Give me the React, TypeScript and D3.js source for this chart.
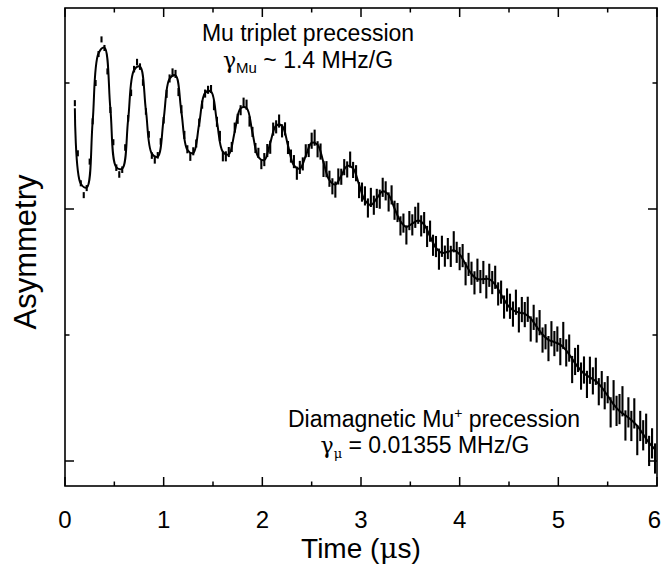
import React from 'react';
import * as d3 from 'd3';

// ---- data (asymmetry in arbitrary units) ----
const DATA_T0 = 0.1; // µs, first bin
const DATA_DT = 0.03; // µs, bin width
const asymmetry = [
  142.0, 122.1, 110.2, 105.5, 108.3, 118.8, 134.8, 150.0, 161.5, 167.3,
  163.9, 154.6, 139.3, 126.5, 116.4, 113.7, 115.6, 124.4, 136.0, 146.1,
  155.5, 158.3, 156.5, 150.2, 138.7, 129.6, 121.2, 119.3, 121.3, 126.8,
  135.2, 145.7, 151.8, 154.2, 153.6, 146.4, 139.6, 129.4, 123.7, 120.7,
  122.9, 126.0, 134.3, 141.4, 145.8, 147.3, 147.6, 141.2, 134.6, 129.0,
  120.9, 120.9, 122.6, 124.6, 132.3, 135.8, 139.2, 142.2, 141.4, 134.7,
  130.6, 124.2, 122.3, 117.8, 119.6, 123.2, 124.5, 131.7, 132.6, 134.9,
  131.0, 131.8, 124.4, 121.0, 118.8, 114.2, 116.5, 117.9, 123.1, 123.2,
  127.1, 128.3, 123.7, 122.8, 115.9, 115.8, 112.0, 109.0, 107.7, 112.9,
  112.8, 116.6, 115.7, 119.6, 115.5, 114.2, 107.5, 106.7, 105.2, 100.4,
  104.6, 101.5, 104.2, 103.9, 108.6, 107.2, 102.8, 105.6, 99.5, 98.6,
  93.3, 94.4, 89.7, 95.4, 93.7, 96.7, 98.3, 93.3, 94.6, 89.1,
  91.2, 85.6, 85.1, 80.1, 85.2, 81.3, 84.3, 81.2, 87.0, 82.8,
  80.3, 81.5, 74.3, 78.0, 74.5, 70.7, 75.7, 71.2, 74.8, 69.1,
  73.7, 70.8, 72.9, 66.3, 67.0, 61.1, 63.9, 61.4, 58.3, 63.0,
  56.0, 60.1, 58.1, 60.2, 52.4, 57.0, 52.0, 54.9, 48.0, 49.3,
  44.6, 50.5, 46.6, 48.4, 43.4, 49.8, 42.9, 44.8, 36.3, 39.5,
  40.7, 33.7, 36.1, 30.4, 36.0, 31.8, 35.6, 27.5, 30.3, 25.9,
  28.3, 19.3, 26.1, 19.9, 20.6, 23.7, 14.1, 19.3, 13.9, 18.9,
  8.3, 13.9, 10.2, 12.8, 4.0, 7.0, 1.0,
];
// error-bar half length per 0.5 µs segment
const errorBySegment = [1.2, 1.3, 1.6, 2.0, 2.6, 3.2, 3.8, 4.2, 4.6, 5.0, 5.4, 6.0];

// fitted curve
const FIT_T0 = 0.1;
const FIT_DT = 0.06;
const fitValues = [
  140.0, 110.0, 108.5, 134.5, 161.8, 164.0, 139.7, 116.6, 116.0, 135.5,
  155.1, 156.5, 139.2, 122.0, 120.8, 135.8, 151.7, 153.0, 138.4, 123.5,
  122.2, 133.9, 146.1, 146.6, 134.6, 122.7, 121.7, 130.7, 140.0, 140.1,
  130.3, 120.6, 119.4, 126.2, 133.1, 133.0, 125.2, 117.3, 116.0, 121.1,
  126.3, 125.5, 118.5, 111.4, 109.7, 113.2, 117.1, 116.1, 109.7, 103.4,
  101.6, 104.2, 107.0, 105.6, 100.2, 95.1, 92.9, 94.2, 95.4, 93.8,
  89.1, 84.6, 82.6, 83.0, 83.6, 82.0, 78.1, 74.2, 72.2, 72.2,
  72.2, 70.0, 66.1, 62.2, 59.9, 58.9, 58.4, 56.6, 53.3, 50.2,
  48.1, 47.2, 46.2, 43.9, 40.5, 37.2, 34.7, 33.2, 31.7, 29.2,
  25.9, 22.5, 19.8, 18.1, 16.3, 13.9, 10.6, 7.2, 4.6,
];

const xTicksMajor = [0, 1, 2, 3, 4, 5, 6];
const xTicksMinor = [0.5, 1.5, 2.5, 3.5, 4.5, 5.5];
const yTicksMajor = [0, 100];
const yTicksMinor = [50, 150];
const xDomain = [0, 6];
const yDomain = [-9.92, 179.76];

const W = 662;
const H = 565;
const M = { left: 65, right: 5, top: 8, bottom: 79 };

const SANS = '"Liberation Sans", Arial, Helvetica, sans-serif';
const SERIF = '"DejaVu Serif", "Liberation Serif", serif';

export default function App() {
  const x = d3.scaleLinear().domain(xDomain).range([M.left, W - M.right]);
  const y = d3.scaleLinear().domain(yDomain).range([H - M.bottom, M.top]);
  const x0 = M.left, x1 = W - M.right, y0 = H - M.bottom, y1 = M.top;

  const pts = asymmetry.map((v, i) => {
    const t = DATA_T0 + DATA_DT * i;
    const seg = Math.min(errorBySegment.length - 1, Math.floor(t / 0.5));
    return { t, v, e: errorBySegment[seg] };
  });
  const fitPts = fitValues.map((v, i) => [FIT_T0 + FIT_DT * i, v] as [number, number]);
  const line = d3
    .line<[number, number]>()
    .x((d) => x(d[0]))
    .y((d) => y(d[1]))
    .curve(d3.curveCatmullRom.alpha(0.5));

  const majorLen = 9;
  const minorLen = 4.5;

  return (
    <svg
      width={W}
      height={H}
      style={{ position: 'absolute', left: 0, top: 0, background: '#fff' }}
      fontFamily={SANS}
    >
      <rect x={0} y={0} width={W} height={H} fill="#fff" />
      <defs>
        <clipPath id="plot">
          <rect x={x0} y={y1} width={x1 - x0} height={y0 - y1} />
        </clipPath>
      </defs>

      <g clipPath="url(#plot)">
        <path d={line(fitPts) || ''} fill="none" stroke="#000" strokeWidth={2} />
        {pts.map((p, i) => (
          <line
            key={i}
            x1={x(p.t)}
            x2={x(p.t)}
            y1={y(p.v - p.e)}
            y2={y(p.v + p.e)}
            stroke="#000"
            strokeWidth={2.1}
          />
        ))}
      </g>

      {/* frame */}
      <rect x={x0} y={y1} width={x1 - x0} height={y0 - y1} fill="none" stroke="#000" strokeWidth={1.6} />

      {/* x ticks bottom and top */}
      {xTicksMajor.map((t) => {
        const tx = x(t);
        const isLast = tx + 8 > W;
        return (
          <g key={'xm' + t}>
            <line x1={tx} x2={tx} y1={y0} y2={y0 - majorLen} stroke="#000" strokeWidth={1.5} />
            <line x1={tx} x2={tx} y1={y1} y2={y1 + majorLen} stroke="#000" strokeWidth={1.5} />
            <text
              x={isLast ? W - 1 : tx}
              y={528}
              textAnchor={isLast ? 'end' : 'middle'}
              fontSize={24}
            >
              {t}
            </text>
          </g>
        );
      })}
      {xTicksMinor.map((t) => (
        <g key={'xn' + t}>
          <line x1={x(t)} x2={x(t)} y1={y0} y2={y0 - minorLen} stroke="#000" strokeWidth={1.5} />
          <line x1={x(t)} x2={x(t)} y1={y1} y2={y1 + minorLen} stroke="#000" strokeWidth={1.5} />
        </g>
      ))}
      {/* y ticks left and right */}
      {yTicksMajor.map((v) => (
        <g key={'ym' + v}>
          <line x1={x0} x2={x0 + majorLen} y1={y(v)} y2={y(v)} stroke="#000" strokeWidth={1.5} />
          <line x1={x1} x2={x1 - majorLen} y1={y(v)} y2={y(v)} stroke="#000" strokeWidth={1.5} />
        </g>
      ))}
      {yTicksMinor.map((v) => (
        <g key={'yn' + v}>
          <line x1={x0} x2={x0 + minorLen} y1={y(v)} y2={y(v)} stroke="#000" strokeWidth={1.5} />
          <line x1={x1} x2={x1 - minorLen} y1={y(v)} y2={y(v)} stroke="#000" strokeWidth={1.5} />
        </g>
      ))}

      {/* axis titles */}
      <text x={(x0 + x1) / 2} y={558} textAnchor="middle" fontSize={28}>
        Time (<tspan fontFamily={SERIF}>μ</tspan>s)
      </text>
      <text transform={`translate(36, ${252}) rotate(-90)`} textAnchor="middle" fontSize={31}>
        Asymmetry
      </text>

      {/* annotations */}
      <text x={308} y={41} textAnchor="middle" fontSize={23}>
        Mu triplet precession
      </text>
      <text x={308} y={68} textAnchor="middle" fontSize={23}>
        <tspan fontFamily={SERIF} fontSize={22}>γ</tspan>
        <tspan fontSize={15} dy={5}>Mu</tspan>
        <tspan dy={-5}> ~ 1.4 MHz/G</tspan>
      </text>
      <text x={434} y={427} textAnchor="middle" fontSize={23}>
        Diamagnetic Mu<tspan fontSize={14} dy={-9}>+</tspan>
        <tspan dy={9}> precession</tspan>
      </text>
      <text x={425} y={453} textAnchor="middle" fontSize={23}>
        <tspan fontFamily={SERIF} fontSize={22}>γ</tspan>
        <tspan fontFamily={SERIF} fontSize={13} dy={5}>μ</tspan>
        <tspan dy={-5}> = 0.01355 MHz/G</tspan>
      </text>
    </svg>
  );
}
